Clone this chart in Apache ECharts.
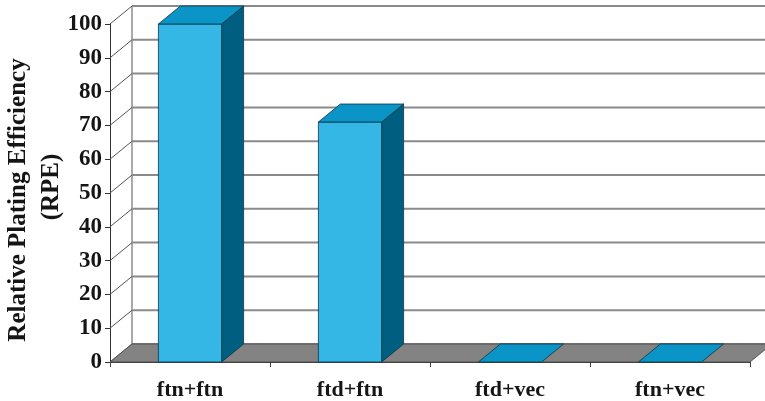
<!DOCTYPE html>
<html>
<head>
<meta charset="utf-8">
<script src="https://cdn.jsdelivr.net/npm/echarts@6/dist/echarts.min.js"></script>
<style>
html,body{margin:0;padding:0;background:#fff;}
#chart{width:765px;height:401px;}
</style>
</head>
<body>
<div id="chart"></div>
<script>
const categories = ['ftn+ftn', 'ftd+ftn', 'ftd+vec', 'ftn+vec'];
const rpeValues = [100, 71, 0, 0];
const yTicks = [0, 10, 20, 30, 40, 50, 60, 70, 80, 90, 100];
const titleLine1 = 'Relative Plating Efficiency';
const titleLine2 = '(RPE)';

const DX = 22, DY = -18;
const SERIF = '"Liberation Serif", "Times New Roman", serif';

const chart = echarts.init(document.getElementById('chart'));

function wallItem(params, api) {
  const v = api.value(1);
  const cs = params.coordSys;
  const x0 = cs.x, x1 = cs.x + cs.width;
  const y = api.coord([0, v])[1];
  const children = [];
  children.push({type: 'line', shape: {x1: x0 + DX, y1: y + DY, x2: x1 + DX, y2: y + DY},
    style: {stroke: '#8a8a8a', lineWidth: 2}});
  children.push({type: 'line', shape: {x1: x0, y1: y, x2: x0 + DX, y2: y + DY},
    style: {stroke: '#555', lineWidth: 1}});
  if (params.dataIndex === 0) {
    const yTop = api.coord([0, yTicks[yTicks.length - 1]])[1];
    children.push({type: 'line', shape: {x1: x0 + DX, y1: y + DY, x2: x0 + DX, y2: yTop + DY},
      style: {stroke: '#555', lineWidth: 1}});
    children.push({type: 'polygon', shape: {points: [[x0, y], [x1, y], [x1 + DX, y + DY], [x0 + DX, y + DY]]},
      style: {fill: '#838383', stroke: '#444', lineWidth: 0.8}});
  }
  return {type: 'group', children: children};
}

function barItem(params, api) {
  const idx = api.value(0), val = api.value(1);
  const top = api.coord([idx, val]);
  const base = api.coord([idx, 0]);
  const w = api.size([1, 0])[0] * 0.395;
  const x0 = top[0] - w / 2, x1 = top[0] + w / 2;
  const yT = top[1], yB = base[1];
  const edge = '#0d3445';
  const children = [];
  if (yB - yT > 0.5) {
    children.push({type: 'polygon', shape: {points: [[x1, yT], [x1 + DX, yT + DY], [x1 + DX, yB + DY], [x1, yB]]},
      style: {fill: '#005f80', stroke: edge, lineWidth: 0.8}});
    children.push({type: 'rect', shape: {x: x0, y: yT, width: w, height: yB - yT},
      style: {fill: '#35b7e6', stroke: edge, lineWidth: 0.8}});
  }
  children.push({type: 'polygon', shape: {points: [[x0, yT], [x1, yT], [x1 + DX, yT + DY], [x0 + DX, yT + DY]]},
    style: {fill: '#0b95c7', stroke: edge, lineWidth: 0.8}});
  return {type: 'group', children: children};
}

chart.setOption({
  animation: false,
  backgroundColor: '#fff',
  grid: {left: 110, right: 15, top: 24, bottom: 38.5},
  xAxis: {
    type: 'category',
    data: categories,
    axisLine: {show: true, lineStyle: {color: '#444', width: 1}},
    axisTick: {show: true, length: 5, lineStyle: {color: '#444'}},
    axisLabel: {fontFamily: SERIF, fontWeight: 'bold', fontSize: 22, color: '#151515', margin: 17},
    splitLine: {show: false}
  },
  yAxis: {
    type: 'value',
    min: 0, max: 100, interval: 10,
    axisLine: {show: true, lineStyle: {color: '#333', width: 1}},
    axisTick: {show: true, length: 5, lineStyle: {color: '#333'}},
    axisLabel: {fontFamily: SERIF, fontWeight: 'bold', fontSize: 23, color: '#151515', margin: 8},
    splitLine: {show: false}
  },
  graphic: [
    {type: 'text', x: 19, y: 200, rotation: Math.PI / 2,
      style: {text: titleLine1, font: 'bold 25px ' + SERIF, fill: '#151515', align: 'center', verticalAlign: 'middle'}},
    {type: 'text', x: 52, y: 187, rotation: Math.PI / 2,
      style: {text: titleLine2, font: 'bold 25px ' + SERIF, fill: '#151515', align: 'center', verticalAlign: 'middle'}}
  ],
  series: [
    {type: 'custom', z: 1, renderItem: wallItem, encode: {x: 0, y: 1},
      data: yTicks.map(v => [0, v]), silent: true},
    {type: 'custom', z: 2, renderItem: barItem, encode: {x: 0, y: 1},
      data: rpeValues.map((v, i) => [i, v])}
  ]
});
</script>
</body>
</html>
